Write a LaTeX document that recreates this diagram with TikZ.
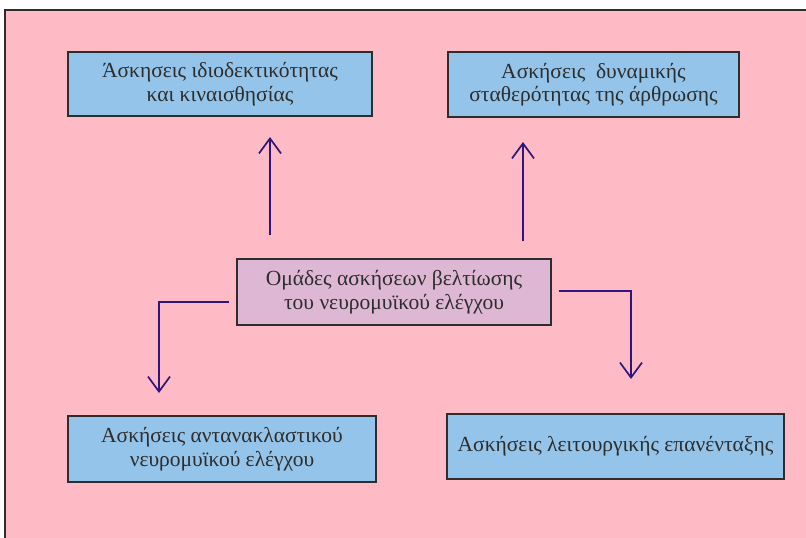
\documentclass[tikz,border=0pt]{standalone}
\usepackage{fontspec}
\setmainfont{Liberation Serif}
\usetikzlibrary{arrows.meta}
\definecolor{bgpink}{RGB}{255,187,197}
\definecolor{boxblue}{RGB}{148,196,233}
\definecolor{boxmauve}{RGB}{221,183,212}
\definecolor{arrowpurple}{RGB}{48,22,122}
\definecolor{inkgray}{RGB}{45,45,45}
\begin{document}
\begin{tikzpicture}[x=1pt,y=-1pt,
  exbox/.style={draw=inkgray, line width=1.3pt, fill=boxblue, text=inkgray,
    align=center, inner sep=0pt, font=\fontsize{21.5}{23.5}\selectfont},
  hubbox/.style={exbox, fill=boxmauve},
  flow/.style={draw=arrowpurple, line width=1.7pt,
    -{Straight Barb[length=15pt,width=22pt,line width=1.7pt]}}]
  \useasboundingbox (0,0) rectangle (806,538);
  % page frame
  \fill[white] (0,0) rectangle (806,538);
  \fill[bgpink] (5,10) rectangle (806,538);
  \draw[inkgray, line width=1.5pt] (5,538) -- (5,10) -- (806,10);

  % boxes
  \node[exbox, minimum width=304pt, minimum height=64pt] (prop) at (220,84)
    {Άσκησεις ιδιοδεκτικότητας\\και κιναισθησίας};
  \node[exbox, minimum width=291pt, minimum height=65pt] (stab) at (593.5,84.5)
    {Ασκήσεις\ \ δυναμικής\\σταθερότητας της άρθρωσης};
  \node[hubbox, minimum width=314pt, minimum height=66pt] (hub) at (394,292)
    {Ομάδες ασκήσεων βελτίωσης\\του νευρομυϊκού ελέγχου};
  \node[exbox, minimum width=308pt, minimum height=66pt] (refl) at (222,449)
    {Ασκήσεις αντανακλαστικού\\νευρομυϊκού ελέγχου};
  \node[exbox, minimum width=337pt, minimum height=65pt] (func) at (615.5,446.5)
    {Ασκήσεις λειτουργικής επανένταξης};

  % free-standing arrows around the hub
  \coordinate (upAs) at (270,235);
  \coordinate (upAe) at (270,137);
  \coordinate (upBs) at (523,241);
  \coordinate (upBe) at (523,142);
  \coordinate (dnAs) at (229,302);
  \coordinate (dnAc) at (159,302);
  \coordinate (dnAe) at (159,393);
  \coordinate (dnBs) at (559,291);
  \coordinate (dnBc) at (631,291);
  \coordinate (dnBe) at (631,379);

  \draw[flow] (upAs) -- (upAe);
  \draw[flow] (upBs) -- (upBe);
  \draw[flow] (dnAs) -- (dnAc) -- (dnAe);
  \draw[flow] (dnBs) -- (dnBc) -- (dnBe);
\end{tikzpicture}
\end{document}
